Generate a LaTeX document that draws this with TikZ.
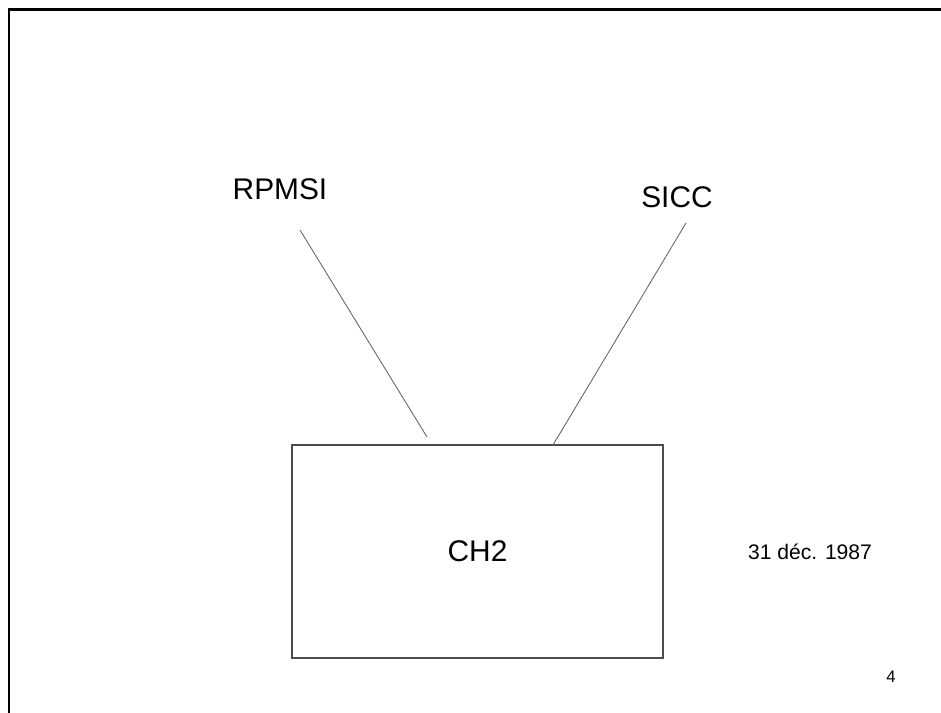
\documentclass[tikz,border=0pt]{standalone}
\usepackage{fontspec}
\setmainfont{Liberation Sans}
\tikzset{
  label/.style={inner sep=0pt, font=\fontsize{17}{20}\selectfont},
  link/.style={draw=black!60, line width=0.5pt},
}
\begin{document}
\begin{tikzpicture}[x=0.02cm, y=-0.02cm]
\useasboundingbox (0,0) rectangle (941,713);
\draw[line width=1.2pt] (9,713) -- (9,9.5) -- (941,9.5);

\node (rpmsi) [label] at (280,189) {RPMSI};
\node (sicc) [label] at (677,197) {SICC};
\node (ch2) [draw=black!70, line width=0.6pt, minimum width=371*0.02cm, minimum height=213*0.02cm, label] at (477.5,551.5) {CH2};
\node (date) [inner sep=0pt, font=\fontsize{12}{14}\selectfont] at (810,552) {31 déc. 1987};
\node (page) [inner sep=0pt, font=\fontsize{9.5}{11}\selectfont] at (891,677) {4};

\coordinate (rtop) at (300,230);
\coordinate (rbot) at (427,437);
\coordinate (stop) at (686,223);
\coordinate (sbot) at (553,445);
\draw[link] (rtop) -- (rbot);
\draw[link] (stop) -- (sbot);
\end{tikzpicture}
\end{document}
